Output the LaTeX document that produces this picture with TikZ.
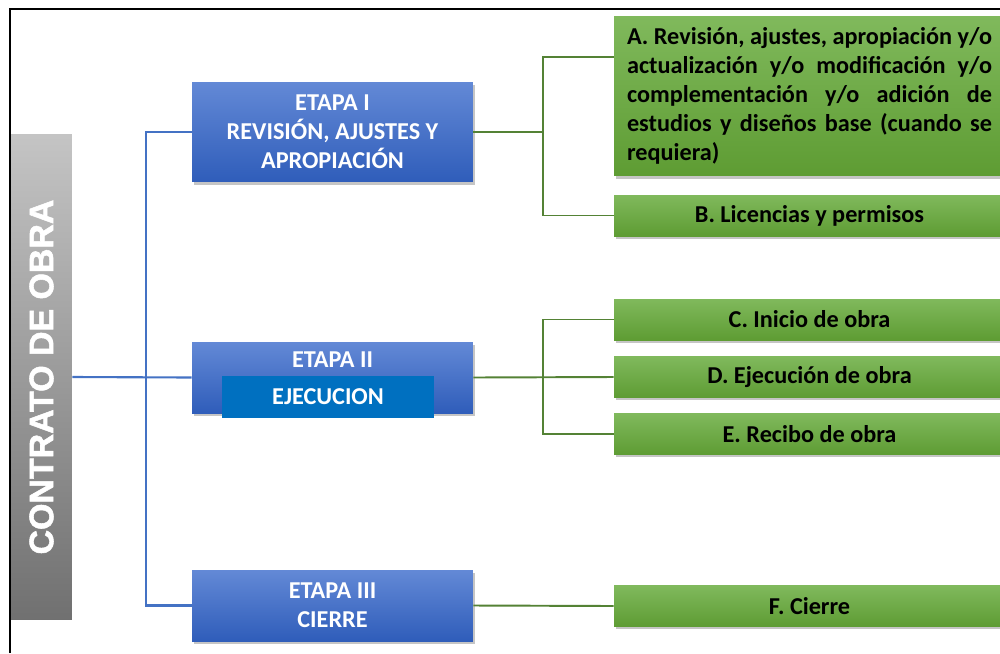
\documentclass[tikz,border=0pt]{standalone}
\usepackage{fontspec}
\setmainfont{Carlito}
\newfontfamily\heavyfont[FakeBold=1.6]{Liberation Sans}
\usetikzlibrary{shadows}

\definecolor{azulA}{HTML}{6389D6}
\definecolor{azulB}{HTML}{2F5DBA}
\definecolor{azulC}{HTML}{0070C0}
\definecolor{verdeA}{HTML}{80B95C}
\definecolor{verdeB}{HTML}{5E9C33}
\definecolor{lineaAzul}{HTML}{4472C4}
\definecolor{lineaVerde}{HTML}{548235}

\tikzset{
  etapa/.style={rectangle, top color=azulA, bottom color=azulB, draw=none,
    minimum width=5.62cm, text=white, align=center,
    font=\bfseries\fontsize{13.8}{16.5}\selectfont,
    drop shadow={shadow xshift=1.2pt, shadow yshift=-1.5pt, opacity=0.45}},
  actividad/.style={rectangle, top color=verdeA, bottom color=verdeB, draw=none,
    minimum width=7.82cm, minimum height=0.82cm, text=black, align=center,
    font=\bfseries\fontsize{13.8}{16.5}\selectfont,
    drop shadow={shadow xshift=1.2pt, shadow yshift=-1.5pt, opacity=0.45}},
  bline/.style={draw=lineaAzul, line width=1.2pt},
  gline/.style={draw=lineaVerde, line width=1.1pt}
}

\begin{document}
\begin{tikzpicture}[x=0.02cm, y=-0.02cm]
\useasboundingbox (0,0) rectangle (1000,653);
\clip (0,0) rectangle (1000,653);
\fill[white] (0,0) rectangle (1000,653);
\draw[black, line width=0.6pt] (10,653) -- (10,9) -- (1000,9);

% barra lateral
\node[rectangle, top color=black!23, bottom color=black!56, draw=none,
  minimum width=1.22cm, minimum height=9.72cm, inner sep=0pt] (contrato) at (41.5,377) {};
\node[rotate=90, text=white, font=\heavyfont\bfseries\fontsize{19.3}{22}\selectfont]
  (contratotxt) at (contrato) {CONTRATO DE OBRA};

% etapas
\node[etapa, minimum height=2cm] (etapaI) at (332.5,132) {ETAPA I\\REVISIÓN, AJUSTES Y\\APROPIACIÓN};
\node[etapa, minimum height=1.42cm] (etapaII) at (332.5,377.5) {};
\node[text=white, font=\bfseries\fontsize{13.8}{16.5}\selectfont] (etapaIItit) at (332.5,360) {ETAPA II};
\node[rectangle, fill=azulC, minimum width=4.24cm, minimum height=0.84cm, text=white,
  font=\bfseries\fontsize{13.8}{16.5}\selectfont] (ejecucion) at (328,397) {EJECUCION};
\node[etapa, minimum height=1.42cm] (etapaIII) at (332.5,605.5) {ETAPA III\\CIERRE};

% actividades
\node[actividad, minimum height=3.2cm, text width=7.3cm, inner xsep=0.26cm, align=justify]
  (actA) at (809.5,96) {\hyphenpenalty=10000 A. Revisión, ajustes, apropiación y/o\linebreak
  actualización y/o modificación y/o\linebreak complementación y/o adición de\linebreak
  estudios y diseños base (cuando se\linebreak requiera)};
\node[actividad] (actB) at (809.5,215.5) {B. Licencias y permisos};
\node[actividad] (actC) at (809.5,319.5) {C. Inicio de obra};
\node[actividad] (actD) at (809.5,377) {D. Ejecución de obra};
\node[actividad] (actE) at (809.5,434) {E. Recibo de obra};
\node[actividad] (actF) at (809.5,606) {F. Cierre};

% conectores
\coordinate (bus) at (146,377);
\coordinate (gA) at (543,57);
\draw[bline] (contrato.east) -- (etapaII.west);
\draw[bline] (etapaI.west) -| (bus) |- (etapaIII.west);
\draw[gline] (etapaI.east) -- (etapaI.east -| gA);
\draw[gline] (actA.west |- gA) -- (gA) |- (actB.west);
\draw[gline] (etapaII.east) -- (actD.west);
\draw[gline] (actC.west) -- (actC.west -| gA) |- (actE.west);
\draw[gline] (etapaIII.east) -- (actF.west);
\end{tikzpicture}
\end{document}
